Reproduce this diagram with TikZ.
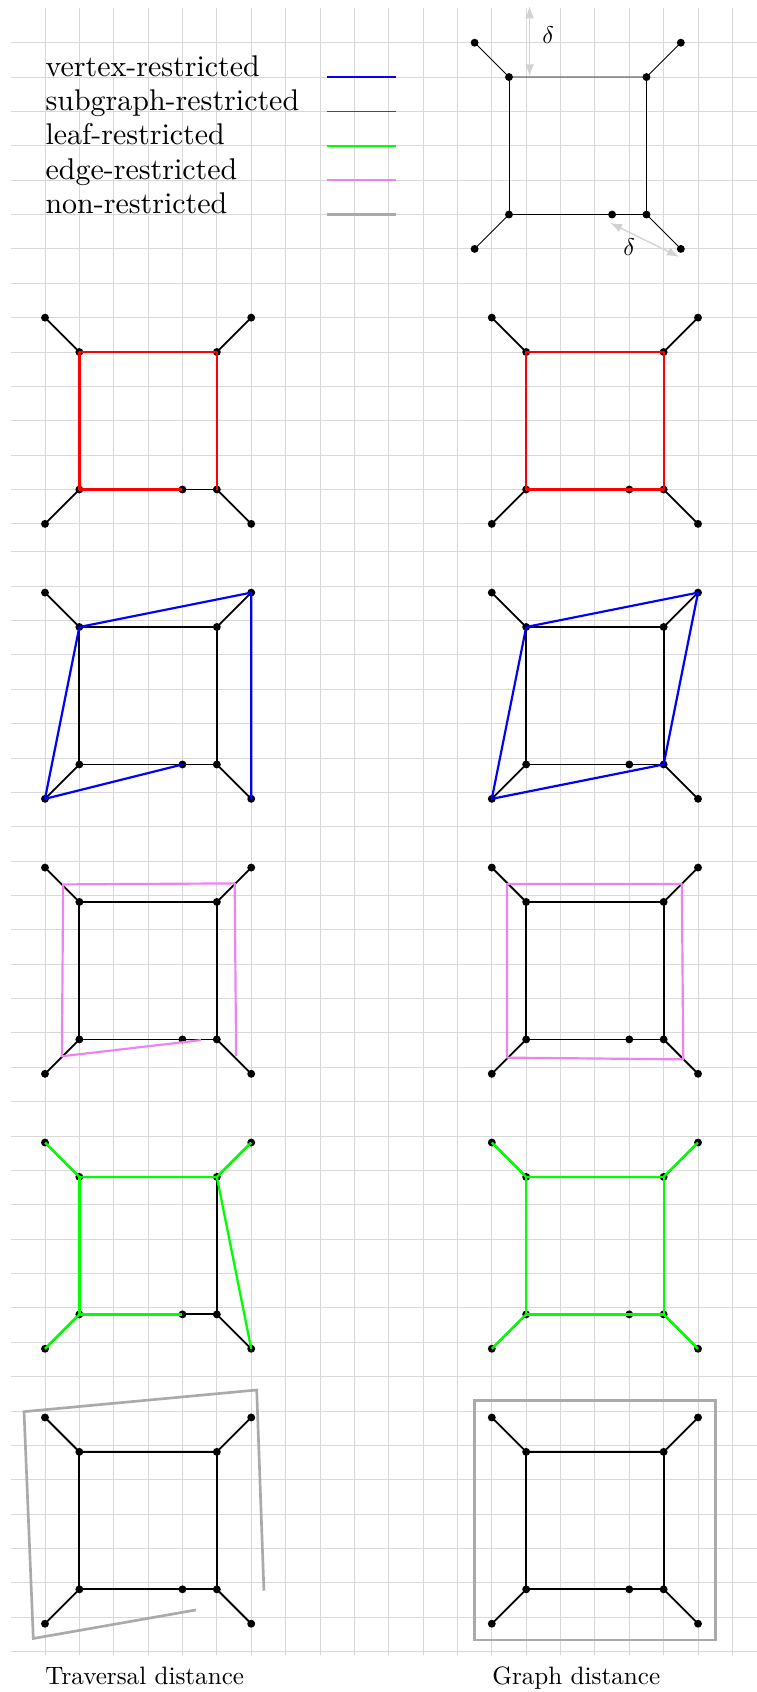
\documentclass[tikz,border=0pt]{standalone}
\usetikzlibrary{arrows.meta}
\pgfdeclarelayer{gridlayer}
\pgfdeclarelayer{background}
\pgfsetlayers{gridlayer,background,main}
\definecolor{gridc}{RGB}{216,216,216}
\definecolor{nonr}{RGB}{170,170,170}
\definecolor{edgec}{RGB}{238,130,238}
\definecolor{deltac}{RGB}{210,210,210}
\tikzset{
 vtx/.style={circle,fill=black,inner sep=0pt,minimum size=2.3mm},
 gedge/.style={line width=1.5pt,black},
 hedge/.style={line width=0.7pt,black},
 vr/.style={line width=1.8pt,blue,line join=round},
 sr/.style={line width=1.9pt,red,line join=round},
 lr/.style={line width=1.9pt,green,line join=round},
 er/.style={line width=1.8pt,edgec,line join=round},
 nr/.style={line width=2.2pt,nonr},
 legline/.style={line width=1.3pt},
 gridl/.style={line width=0.7pt,gridc},
 legtext/.style={anchor=base west,inner sep=0pt,scale=2.48},
 labtext/.style={anchor=base west,inner sep=0pt,scale=2.08},
 deltatext/.style={inner sep=0pt,scale=2},
 darrow/.style={deltac,line width=1.1pt,{Latex[length=3.5mm,width=2.6mm]}-{Latex[length=3.5mm,width=2.6mm]}},
}
% #1 prefix, #2 x, #3 y, #4 edge style
\newcommand{\mkgraph}[4]{%
 \begin{scope}[shift={(#2,#3)}]
  \node[vtx] (#1tl) at (0,0) {};
  \node[vtx] (#1a) at (1,-1) {};
  \node[vtx] (#1b) at (5,-1) {};
  \node[vtx] (#1tr) at (6,0) {};
  \node[vtx] (#1c) at (1,-5) {};
  \node[vtx] (#1m) at (4,-5) {};
  \node[vtx] (#1d) at (5,-5) {};
  \node[vtx] (#1bl) at (0,-6) {};
  \node[vtx] (#1br) at (6,-6) {};
 \end{scope}
 \begin{pgfonlayer}{background}
  \draw[#4] (#1tl.center) -- (#1a.center) -- (#1b.center) -- (#1tr.center);
  \draw[#4] (#1a.center) -- (#1c.center) -- (#1m.center) -- (#1d.center) -- (#1b.center);
  \draw[#4] (#1c.center) -- (#1bl.center);
  \draw[#4] (#1d.center) -- (#1br.center);
 \end{pgfonlayer}
}
\begin{document}
\begin{tikzpicture}
\useasboundingbox (-1.309,-47.987) rectangle (20.716,1.242);
% grid
\begin{pgfonlayer}{gridlayer}
 \foreach \x in {0,...,20} \draw[gridl] (\x,1) -- (\x,-46.9);
 \foreach \y in {0,...,14} \draw[gridl] (-1,-\y) -- (20.716,-\y);
 \foreach \y in {0,...,32} \draw[gridl] (-1,-14.81-\y) -- (20.716,-14.81-\y);
\end{pgfonlayer}

% legend
\node[legtext] (t1) at (0,-0.97) {vertex-restricted};
\node[legtext] (t2) at (0,-1.97) {subgraph-restricted};
\node[legtext] (t3) at (0,-2.97) {leaf-restricted};
\node[legtext] (t4) at (0,-3.97) {edge-restricted};
\node[legtext] (t5) at (0,-4.97) {non-restricted};
\coordinate (l1a) at (8.2,-1); \coordinate (l1b) at (10.2,-1);
\coordinate (l2a) at (8.2,-2); \coordinate (l2b) at (10.2,-2);
\coordinate (l3a) at (8.2,-3); \coordinate (l3b) at (10.2,-3);
\coordinate (l4a) at (8.2,-4); \coordinate (l4b) at (10.2,-4);
\coordinate (l5a) at (8.2,-5); \coordinate (l5b) at (10.2,-5);
\draw[legline,blue] (l1a) -- (l1b);
\draw[legline,red] (l2a) -- (l2b);
\draw[legline,green] (l3a) -- (l3b);
\draw[legline,edgec] (l4a) -- (l4b);
\draw[legline,nonr,line width=2pt] (l5a) -- (l5b);

% header graph
\mkgraph{H}{12.5}{0}{hedge}
\coordinate (d1s) at (14.1,1.06);
\coordinate (d1e) at (14.1,-0.98);
\draw[darrow] (d1s) -- (d1e);
\node[deltatext] (d1) at (14.64,0.22) {$\delta$};
\coordinate (d2s) at (16.44,-5.24);
\coordinate (d2e) at (18.45,-6.23);
\draw[darrow] (d2s) -- (d2e);
\node[deltatext] (d2) at (17.0,-5.94) {$\delta$};

% row 1: subgraph-restricted
\mkgraph{A}{0}{-8}{gedge}
\mkgraph{B}{13}{-8}{gedge}
\draw[sr] (Am.center) -- (Ac.center) -- (Aa.center) -- (Ab.center) -- (Ad.center);
\draw[sr] (Ba.center) -- (Bb.center) -- (Bd.center) -- (Bc.center) -- cycle;

% row 2: vertex-restricted
\mkgraph{C}{0}{-16}{gedge}
\mkgraph{D}{13}{-16}{gedge}
\draw[vr] (Cbr.center) -- (Ctr.center) -- (Ca.center) -- (Cbl.center) -- (Cm.center);
\draw[vr] (Da.center) -- (Dtr.center) -- (Dd.center) -- (Dbl.center) -- cycle;

% row 3: edge-restricted
\mkgraph{E}{0}{-24}{gedge}
\mkgraph{F}{13}{-24}{gedge}
\coordinate (e1) at (4.54,-29.02);
\coordinate (e2) at (0.49,-29.49);
\coordinate (e3) at (0.53,-24.49);
\coordinate (e4) at (5.52,-24.46);
\coordinate (e5) at (5.56,-29.49);
\draw[er] (e1) -- (e2) -- (e3) -- (e4) -- (e5);
\coordinate (f1) at (13.44,-24.48);
\coordinate (f2) at (18.53,-24.48);
\coordinate (f3) at (18.57,-29.58);
\coordinate (f4) at (13.44,-29.53);
\draw[er] (f1) -- (f2) -- (f3) -- (f4) -- cycle;

% row 4: leaf-restricted
\mkgraph{G}{0}{-32}{gedge}
\mkgraph{K}{13}{-32}{gedge}
\draw[lr] (Gtl.center) -- (Ga.center) -- (Gb.center) -- (Gtr.center);
\draw[lr] (Gm.center) -- (Gc.center) -- (Ga.center);
\draw[lr] (Gc.center) -- (Gbl.center);
\draw[lr] (Gb.center) -- (Gbr.center);
\draw[lr] (Ktl.center) -- (Ka.center) -- (Kb.center) -- (Ktr.center);
\draw[lr] (Ka.center) -- (Kc.center) -- (Km.center) -- (Kd.center) -- (Kb.center);
\draw[lr] (Kc.center) -- (Kbl.center);
\draw[lr] (Kd.center) -- (Kbr.center);

% row 5: non-restricted
\mkgraph{M}{0}{-40}{gedge}
\mkgraph{N}{13}{-40}{gedge}
\coordinate (g1) at (4.39,-45.6);
\coordinate (g2) at (-0.34,-46.43);
\coordinate (g3) at (-0.61,-39.83);
\coordinate (g4) at (6.16,-39.2);
\coordinate (g5) at (6.37,-45.04);
\draw[nr] (g1) -- (g2) -- (g3) -- (g4) -- (g5);
\coordinate (h1) at (12.5,-39.5);
\coordinate (h2) at (19.5,-46.47);
\draw[nr] (h1) rectangle (h2);

% labels
\node[labtext] (lab1) at (0,-47.78) {Traversal distance};
\node[labtext] (lab2) at (13,-47.78) {Graph distance};
\end{tikzpicture}
\end{document}
